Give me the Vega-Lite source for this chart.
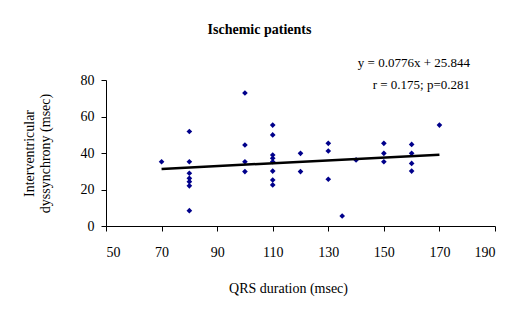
{
  "$schema": "https://vega.github.io/schema/vega-lite/v6.json",
  "autosize": {"type": "none"},
  "width": 389,
  "height": 146,
  "padding": {"left": 106, "top": 80, "right": 17, "bottom": 83},
  "background": "white",
  "config": {
    "view": {"stroke": null},
    "font": "Liberation Serif",
    "axis": {"grid": false, "domainColor": "black", "tickColor": "black", "labelColor": "black", "titleColor": "black", "labelFont": "Liberation Serif", "titleFont": "Liberation Serif", "labelFontSize": 14, "titleFontSize": 14, "titleFontWeight": "normal", "tickSize": 5, "domainWidth": 1, "tickWidth": 1, "labelOverlap": false}
  },
  "title": {"text": "Ischemic patients", "font": "Liberation Serif", "fontSize": 14, "fontWeight": "bold", "color": "black", "anchor": "middle", "dx": -41, "offset": 20},
  "datasets": {
    "pts": [
      {"qrs": 70, "ivd": 35.2},
      {"qrs": 80, "ivd": 51.8},
      {"qrs": 80, "ivd": 35.2},
      {"qrs": 80, "ivd": 28.9},
      {"qrs": 80, "ivd": 26.1},
      {"qrs": 80, "ivd": 24.3},
      {"qrs": 80, "ivd": 22.0},
      {"qrs": 80, "ivd": 8.4},
      {"qrs": 100, "ivd": 72.9},
      {"qrs": 100, "ivd": 44.4},
      {"qrs": 100, "ivd": 35.2},
      {"qrs": 100, "ivd": 29.8},
      {"qrs": 110, "ivd": 55.3},
      {"qrs": 110, "ivd": 49.9},
      {"qrs": 110, "ivd": 38.9},
      {"qrs": 110, "ivd": 37.1},
      {"qrs": 110, "ivd": 35.2},
      {"qrs": 110, "ivd": 30.1},
      {"qrs": 110, "ivd": 25.2},
      {"qrs": 110, "ivd": 22.5},
      {"qrs": 120, "ivd": 39.8},
      {"qrs": 120, "ivd": 29.8},
      {"qrs": 130, "ivd": 45.3},
      {"qrs": 130, "ivd": 41.1},
      {"qrs": 130, "ivd": 25.6},
      {"qrs": 135, "ivd": 5.5},
      {"qrs": 140, "ivd": 36.2},
      {"qrs": 150, "ivd": 45.3},
      {"qrs": 150, "ivd": 39.8},
      {"qrs": 150, "ivd": 35.2},
      {"qrs": 160, "ivd": 44.7},
      {"qrs": 160, "ivd": 39.8},
      {"qrs": 160, "ivd": 34.3},
      {"qrs": 160, "ivd": 30.1},
      {"qrs": 170, "ivd": 55.3}
    ],
    "fit": [
      {"qrs": 70, "ivd": 31.3},
      {"qrs": 170, "ivd": 39.0}
    ],
    "notes": [
      {"qrs": 181, "ivd": 89.5, "label": "y = 0.0776x + 25.844"},
      {"qrs": 181, "ivd": 77.0, "label": "r = 0.175; p=0.281"}
    ]
  },
  "encoding": {
    "x": {"field": "qrs", "type": "quantitative", "scale": {"domain": [50, 190], "nice": false, "zero": false}, "axis": {"values": [50, 70, 90, 110, 130, 150, 170, 190], "title": "QRS duration (msec)", "titlePadding": 22, "labelPadding": 14, "titleX": 182, "labelOverlap": false}},
    "y": {"field": "ivd", "type": "quantitative", "scale": {"domain": [0, 80], "nice": false}, "axis": {"values": [0, 20, 40, 60, 80], "tickCount": 5, "title": ["Interventricular", "dyssynchrony (msec)"], "titlePadding": 28, "labelPadding": 7, "labelOverlap": false}}
  },
  "layer": [
    {
      "data": {"name": "pts"},
      "mark": {"type": "point", "shape": "diamond", "filled": true, "color": "#00008B", "size": 32, "opacity": 1}
    },
    {
      "data": {"name": "fit"},
      "mark": {"type": "line", "color": "black", "strokeWidth": 2.5}
    },
    {
      "data": {"name": "notes"},
      "mark": {"type": "text", "align": "right", "baseline": "middle", "font": "Liberation Serif", "fontSize": 13, "color": "black"},
      "encoding": {
        "text": {"field": "label"}
      }
    }
  ]
}
